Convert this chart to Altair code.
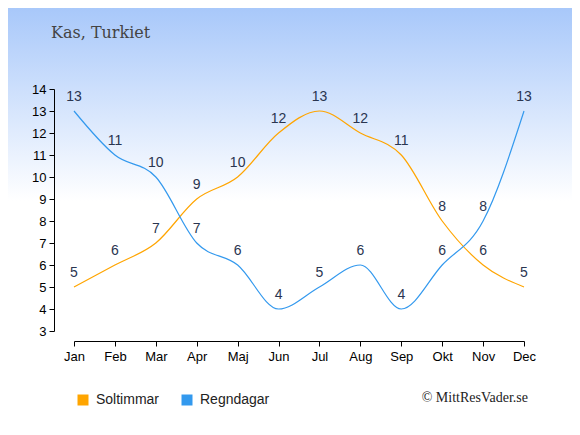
import altair as alt
import pandas as pd

months = ["Jan", "Feb", "Mar", "Apr", "Maj", "Jun", "Jul", "Aug", "Sep", "Okt", "Nov", "Dec"]
soltimmar = [5, 6, 7, 9, 10, 12, 13, 12, 11, 8, 6, 5]
regndagar = [13, 11, 10, 7, 6, 4, 5, 6, 4, 6, 8, 13]
series_names = ["Soltimmar", "Regndagar"]
series_colors = ["#ffa500", "#3399ee"]
y_ticks = list(range(3, 15))

rows = []
for m, s, r in zip(months, soltimmar, regndagar):
    rows.append({"month": m, "series": "Soltimmar", "value": s})
    rows.append({"month": m, "series": "Regndagar", "value": r})
df = pd.DataFrame(rows)

W, H = 450, 242
PL, PT, PR, PB = 66, 81, 48, 96

x_enc = alt.X("month:O", sort=months, scale=alt.Scale(type="point", padding=0),
              axis=alt.Axis(title=None, labelAngle=0, offset=10, domainColor="#000",
                            tickColor="#000", labelColor="#000", labelFont="Liberation Sans",
                            labelFontSize=13, tickSize=5, labelPadding=4, grid=False,
                            labelOverlap=False, zindex=1))
y_enc = alt.Y("value:Q", scale=alt.Scale(domain=[3, 14], nice=False, zero=False),
              axis=alt.Axis(title=None, values=y_ticks, offset=20, domainColor="#000",
                            tickColor="#000", labelColor="#000", labelFont="Liberation Sans",
                            labelFontSize=13, tickSize=5, labelPadding=3, grid=False,
                            labelOverlap=False, zindex=1))
legend = alt.Legend(title=None, orient="none", direction="horizontal",
                    legendX=2, legendY=304, symbolType="square",
                    symbolSize=121, symbolStrokeWidth=0,
                    symbolOpacity=1, labelFont="Liberation Sans",
                    labelFontSize=14, labelColor="#222",
                    labelOffset=6, columnPadding=20, padding=0, zindex=1)
color_enc = alt.Color("series:N", sort=series_names,
                      scale=alt.Scale(domain=series_names, range=series_colors),
                      legend=legend)

bg = alt.Chart(alt.Data(values=[{}])).mark_rect(
    fill=alt.Gradient(gradient="linear", x1=0, y1=0, x2=0, y2=1,
                      stops=[alt.GradientStop(offset=0, color="#a8c8fa"),
                             alt.GradientStop(offset=0.46, color="#ffffff"),
                             alt.GradientStop(offset=1, color="#ffffff")])
).encode(x=alt.value(-PL), x2=alt.value(W + PR), y=alt.value(-PT), y2=alt.value(H + PB))

base = alt.Chart(df)
pts = base.mark_point(filled=True, shape="square", size=0, opacity=1).encode(
    x=x_enc, y=y_enc, color=color_enc)
lines = base.mark_line(interpolate="monotone", strokeWidth=1.2).encode(
    x=x_enc, y=y_enc, color=color_enc)
labels = base.mark_text(dy=-14, fontSize=14, font="Liberation Sans", color="#2a3550").encode(
    x=x_enc, y=y_enc, text="value:Q")

title = alt.Chart(alt.Data(values=[{"t": "Kas, Turkiet"}])).mark_text(
    font="DejaVu Serif", fontSize=16, color="#444", align="left", baseline="alphabetic"
).encode(x=alt.value(-23), y=alt.value(-51), text="t:N")

credit = alt.Chart(alt.Data(values=[{"t": "© MittResVader.se"}])).mark_text(
    font="Liberation Serif", fontSize=14, color="#222", align="right", baseline="alphabetic"
).encode(x=alt.value(454), y=alt.value(313), text="t:N")

chart = alt.layer(bg, pts, lines, labels, title, credit).properties(
    width=W, height=H,
    autosize=alt.AutoSizeParams(type="none"),
    padding={"left": PL, "top": PT, "right": PR, "bottom": PB},
).configure_view(stroke=None).configure(background="#ffffff")

chart.save("out.html", embed_options={"renderer": "svg", "actions": False})
